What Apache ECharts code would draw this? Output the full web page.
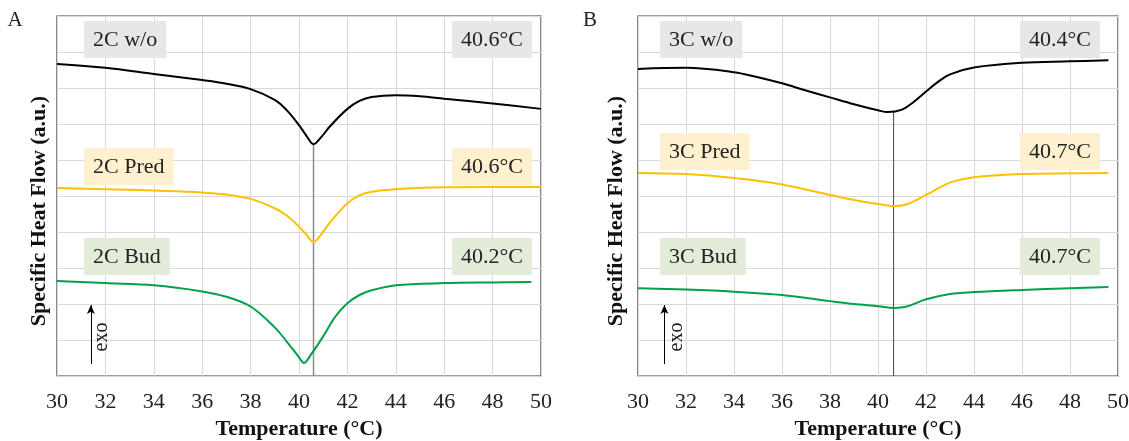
<!DOCTYPE html>
<html>
<head>
<meta charset="utf-8">
<script src="https://cdn.jsdelivr.net/npm/echarts@6/dist/echarts.min.js"></script>
<style>
  html, body { margin: 0; padding: 0; background: #fff; }
  #main { width: 1129px; height: 441px; }
</style>
</head>
<body>
<div id="main"></div>
<script>
// panel A (2C) - temperature (°C) / heat flow (a.u., traces offset)
var t2w = [30, 32, 34, 36, 37, 38, 39, 39.5, 40, 40.3, 40.6, 40.9, 41.3, 42, 42.5, 43, 44, 45, 46, 48, 50];
var h2w = [8.67, 8.56, 8.39, 8.22, 8.12, 7.97, 7.67, 7.38, 6.97, 6.68, 6.44, 6.62, 6.95, 7.42, 7.64, 7.75, 7.8, 7.77, 7.7, 7.57, 7.42];
var t2p = [30, 32, 34, 36, 37, 38, 39, 39.5, 40, 40.3, 40.6, 40.9, 41.3, 42, 42.5, 43, 44, 46, 48, 50];
var h2p = [5.22, 5.19, 5.15, 5.1, 5.04, 4.92, 4.66, 4.45, 4.15, 3.93, 3.72, 3.92, 4.28, 4.8, 5.02, 5.12, 5.19, 5.24, 5.25, 5.25];
var t2b = [30, 32, 34, 36, 37, 38, 39, 39.5, 40, 40.2, 40.5, 41, 41.5, 42, 42.5, 43, 44, 46, 48, 49.6];
var h2b = [2.64, 2.58, 2.52, 2.35, 2.2, 1.93, 1.35, 0.95, 0.52, 0.36, 0.6, 1.1, 1.65, 2.02, 2.25, 2.38, 2.52, 2.58, 2.6, 2.61];

// panel B (3C)
var t3w = [30, 32, 34, 35, 36, 37, 38, 39, 40, 40.4, 41, 41.5, 42, 42.5, 43, 44, 46, 48, 49.6];
var h3w = [8.53, 8.56, 8.44, 8.3, 8.13, 7.93, 7.74, 7.55, 7.38, 7.33, 7.4, 7.62, 7.9, 8.17, 8.38, 8.57, 8.7, 8.74, 8.77];
var t3p = [30, 32, 34, 36, 38, 39, 40, 40.7, 41.2, 42, 43, 44, 46, 48, 49.6];
var h3p = [5.64, 5.61, 5.5, 5.32, 5.03, 4.89, 4.78, 4.72, 4.77, 5.03, 5.37, 5.52, 5.61, 5.63, 5.64];
var t3b = [30, 32, 34, 36, 38, 39, 40, 40.7, 41.2, 42, 43, 44, 46, 48, 49.6];
var h3b = [2.44, 2.4, 2.34, 2.25, 2.08, 2.0, 1.94, 1.89, 1.93, 2.13, 2.28, 2.33, 2.39, 2.44, 2.47];

// peak marker lines: [temp, top of line]
var peakA = [40.6, 6.44];
var peakB = [40.65, 7.33];
// exo arrow x position
var exoX = [31.4, 31.1];

var sampleA = ['2C w/o', '2C Pred', '2C Bud'];
var peakTxtA = ['40.6°C', '40.6°C', '40.2°C'];
var sampleB = ['3C w/o', '3C Pred', '3C Bud'];
var peakTxtB = ['40.4°C', '40.7°C', '40.7°C'];

var colors = ['#000000', '#ffc000', '#00a04d'];
var boxColors = ['#e7e7e7', '#fff0cf', '#e3ecd9'];
var FONT = 'Liberation Serif';

function zip(a, b) {
  var r = [];
  for (var i = 0; i < a.length; i++) r.push([a[i], b[i]]);
  return r;
}

function curve(idx, data, c) {
  return {
    type: 'line', xAxisIndex: idx, yAxisIndex: idx,
    data: data, smooth: 0.35, showSymbol: false, symbol: 'none',
    lineStyle: { color: c, width: 2 }, silent: true, z: 3
  };
}

function peakLine(idx, p, c, w) {
  return {
    type: 'line', xAxisIndex: idx, yAxisIndex: idx,
    data: [[p[0], 0], [p[0], p[1]]], symbol: 'none',
    lineStyle: { color: c, width: w }, silent: true, z: 2,
    markLine: {
      silent: true, symbol: ['none', 'arrow'], symbolSize: [6, 9],
      label: { show: false },
      lineStyle: { color: '#000', width: 1, type: 'solid' },
      data: [[{ coord: [exoX[idx], 0.33] }, { coord: [exoX[idx], 1.97] }]]
    }
  };
}

function xAx(idx) {
  return {
    type: 'value', gridIndex: idx, min: 30, max: 50, interval: 2,
    name: 'Temperature (°C)', nameLocation: 'middle', nameGap: 42,
    nameTextStyle: { fontFamily: FONT, fontSize: 22, fontWeight: 'bold', color: '#111' },
    axisLine: { show: false }, axisTick: { show: false },
    axisLabel: { fontFamily: FONT, fontSize: 22, color: '#222', margin: 15 },
    splitLine: { show: true, lineStyle: { color: '#d9d9d9', width: 1 } }
  };
}

function yAx(idx) {
  return {
    type: 'value', gridIndex: idx, min: 0, max: 10, interval: 1,
    axisLine: { show: false }, axisTick: { show: false }, axisLabel: { show: false },
    splitLine: { show: true, lineStyle: { color: '#d9d9d9', width: 1 } }
  };
}

function box(x, y, txt, bg) {
  return {
    type: 'text', x: x, y: y, silent: true, z: 100,
    style: {
      text: txt, font: '22px "' + FONT + '"', fill: '#222',
      backgroundColor: bg, padding: [8, 9, 7, 9]
    }
  };
}

var graphics = [];
var leftX = [84, 660], rightX = [452, 1020];
var boxY = [[21, 148, 238], [21, 133, 238]];
[[sampleA, peakTxtA], [sampleB, peakTxtB]].forEach(function (p, k) {
  for (var i = 0; i < 3; i++) {
    graphics.push(box(leftX[k], boxY[k][i], p[0][i], boxColors[i]));
    graphics.push(box(rightX[k], boxY[k][i], p[1][i], boxColors[i]));
  }
});
[[39, 102, 'A', 15], [616, 677, 'B', 590]].forEach(function (p) {
  graphics.push({
    type: 'text', x: p[0], y: 211, rotation: Math.PI / 2, silent: true, z: 100,
    style: { text: 'Specific Heat Flow (a.u.)', font: 'bold 22px "' + FONT + '"', fill: '#111', align: 'center', verticalAlign: 'middle' }
  });
  graphics.push({
    type: 'text', x: p[1], y: 337, rotation: Math.PI / 2, silent: true, z: 100,
    style: { text: 'exo', font: '20px "' + FONT + '"', fill: '#222', align: 'center', verticalAlign: 'middle' }
  });
  graphics.push({
    type: 'text', x: p[3], y: 20, silent: true, z: 100,
    style: { text: p[2], font: '21px "' + FONT + '"', fill: '#222', align: 'center', verticalAlign: 'middle' }
  });
});

var chart = echarts.init(document.getElementById('main'), null, { renderer: 'canvas' });
chart.setOption({
  animation: false,
  backgroundColor: '#fff',
  grid: [
    { left: 57, width: 484, top: 16, height: 360, outerBoundsMode: 'none', show: true, borderColor: '#3a3a3a', borderWidth: 1.2, backgroundColor: 'transparent' },
    { left: 638, width: 480, top: 16, height: 360, outerBoundsMode: 'none', show: true, borderColor: '#3a3a3a', borderWidth: 1.2, backgroundColor: 'transparent' }
  ],
  xAxis: [xAx(0), xAx(1)],
  yAxis: [yAx(0), yAx(1)],
  series: [
    peakLine(0, peakA, '#8c8c8c', 1.5),
    curve(0, zip(t2w, h2w), colors[0]),
    curve(0, zip(t2p, h2p), colors[1]),
    curve(0, zip(t2b, h2b), colors[2]),
    peakLine(1, peakB, '#444', 1),
    curve(1, zip(t3w, h3w), colors[0]),
    curve(1, zip(t3p, h3p), colors[1]),
    curve(1, zip(t3b, h3b), colors[2])
  ],
  graphic: graphics
});
</script>
</body>
</html>
